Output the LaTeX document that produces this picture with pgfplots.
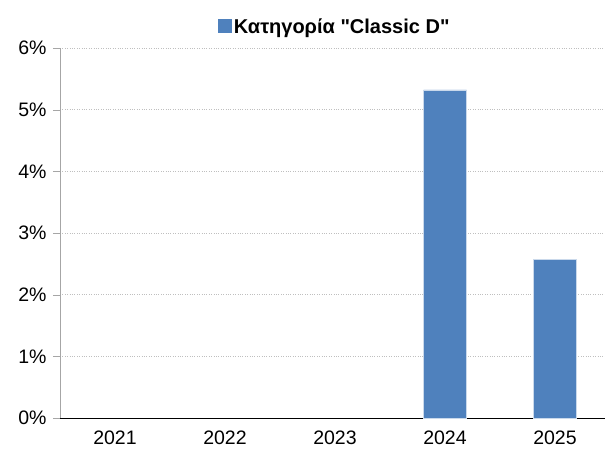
\documentclass[border=0pt]{standalone}
\usepackage{fontspec}
\setmainfont[Ligatures=TeXOff]{Liberation Sans}
\usepackage{pgfplots}
\pgfplotsset{compat=1.18}
\definecolor{barblue}{HTML}{4F81BD}
\begin{document}
\begin{tikzpicture}[x=1pt,y=1pt]
\begin{axis}[
  name=ax,
  at={(0,0)}, anchor=south west,
  scale only axis,
  width=550pt, height=370pt,
  xmin=-0.5, xmax=4.5,
  ymin=0, ymax=6,
  axis lines=left,
  axis line style={-},
  x axis line style={black},
  y axis line style={gray!70},
  xtick={0,1,2,3,4},
  xticklabels={2021,2022,2023,2024,2025},
  major x tick style={draw=none},
  extra x ticks={-0.5,0.5,1.5,2.5,3.5},
  extra x tick labels={},
  extra x tick style={tick style={black,thin}, major tick length=7pt, tick align=outside, grid=none},
  ytick={0,1,2,3,4,5,6},
  yticklabel={\pgfmathprintnumber{\tick}\%},
  ytick style={gray!70},
  tick align=outside,
  major tick length=7pt,
  ymajorgrids,
  grid style={dotted, gray!50},
  /pgf/number format/assume math mode=true,
  tick label style={font=\fontsize{19.5}{21}\selectfont},
  xticklabel style={yshift=-2pt},
  yticklabel style={xshift=-3pt},
  legend style={at={(0.5,1)}, anchor=south, yshift=11pt, draw=none, fill=none,
    font=\fontsize{20}{22}\selectfont\bfseries, inner sep=0pt},
  ybar, bar width=43pt,
  clip=false,
]
\addplot[fill=barblue, draw=white!70!barblue, line width=0.5pt,
  legend image code/.code={\fill[barblue] (0pt,-6pt) rectangle (13pt,7pt);}]
  coordinates {(3,5.32) (4,2.575)};
\addlegendentry{Κατηγορία "Classic D"}
\end{axis}
\pgfresetboundingbox
\path[use as bounding box] (-60pt,-32pt) rectangle (545pt,418pt);
\end{tikzpicture}
\end{document}
